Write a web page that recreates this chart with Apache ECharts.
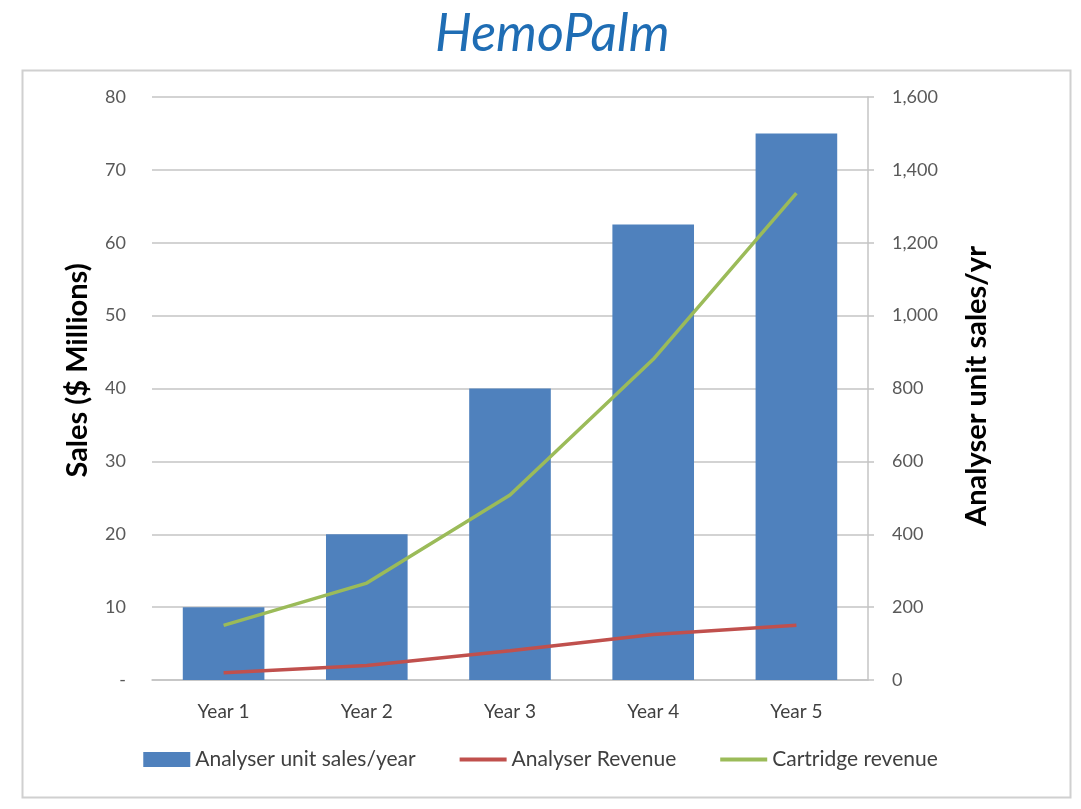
<!DOCTYPE html>
<html>
<head>
<meta charset="utf-8">
<title>HemoPalm</title>
<script src="https://cdn.jsdelivr.net/npm/echarts@6/dist/echarts.min.js"></script>
<style>
  html, body { margin: 0; padding: 0; background: #fff; }
  #chart { width: 1081px; height: 809px; }
</style>
</head>
<body>
<div id="chart"></div>
<script>
// chart data
const years = ['Year 1', 'Year 2', 'Year 3', 'Year 4', 'Year 5'];
const unitSales = [200, 400, 800, 1250, 1500];          // right axis, units/yr
const analyserRevenue = [1, 2, 4, 6.25, 7.5];           // left axis, $M
const cartridgeRevenue = [7.5, 13.3, 25.4, 44, 66.8];   // left axis, $M

const leftTicks = { min: 0, max: 80, interval: 10 };
const rightTicks = { min: 0, max: 1600, interval: 200 };

const fontFamily = 'Lato, "Open Sans", sans-serif';
const tickColor = '#595959';
const gridColor = '#c4c4c4';
// thin bar used as legend icon for the line series
const lineIcon = 'path://M0,0H47V4H0Z';

var myChart = echarts.init(document.getElementById('chart'));

var option = {
	backgroundColor: '#fff',
	textStyle: { fontFamily: fontFamily },
	title: {
		text: 'HemoPalm',
		left: 430,
		top: 3,
		textStyle: {
			fontFamily: fontFamily,
			fontSize: 52,
			fontStyle: 'italic',
			fontWeight: 'normal',
			color: '#1f6db4'
		}
	},
	// outer chart frame
	graphic: [
		{
			type: 'rect',
			left: 20,
			top: 68,
			shape: { width: 1048, height: 727 },
			style: { fill: 'none', stroke: '#d0d0d0', lineWidth: 2 },
			z: -1
		}
	],
	legend: {
		bottom: 34,
		left: 'center',
		itemGap: 44,
		itemWidth: 47,
		itemHeight: 15,
		symbolKeepAspect: true,
		textStyle: { fontSize: 21, color: '#404040', fontFamily: fontFamily },
		data: [
			{ name: 'Analyser unit sales/year', icon: 'rect' },
			{ name: 'Analyser Revenue', icon: lineIcon },
			{ name: 'Cartridge revenue', icon: lineIcon }
		]
	},
	grid: {
		left: 152,
		right: 213,
		top: 97,
		bottom: 129,
		containLabel: false
	},
	xAxis: {
		type: 'category',
		data: years,
		axisLine: { show: true, lineStyle: { color: gridColor, width: 1.5 } },
		axisTick: { show: false },
		axisLabel: { fontSize: 19, color: '#404040', margin: 22 }
	},
	yAxis: [
		{
			type: 'value',
			position: 'left',
			min: leftTicks.min,
			max: leftTicks.max,
			interval: leftTicks.interval,
			name: 'Sales ($ Millions)',
			nameLocation: 'middle',
			nameRotate: 90,
			nameGap: 60,
			nameTextStyle: { fontSize: 29, fontWeight: 'bold', color: '#000', padding: [0, 0, 0, 36] },
			axisLine: { show: false },
			axisTick: { show: false },
			axisLabel: {
				fontSize: 18,
				color: tickColor,
				margin: 26,
				formatter: (v) => v === 0 ? '-' : String(v)
			},
			splitLine: { show: true, lineStyle: { color: gridColor, width: 1.5 } }
		},
		{
			type: 'value',
			position: 'right',
			min: rightTicks.min,
			max: rightTicks.max,
			interval: rightTicks.interval,
			name: 'Analyser unit sales/yr',
			nameLocation: 'middle',
			nameRotate: 90,
			nameGap: 94,
			nameTextStyle: { fontSize: 29, fontWeight: 'bold', color: '#000', padding: [0, 0, 0, 5] },
			axisLine: { show: true, lineStyle: { color: gridColor, width: 1.5 } },
			axisTick: { show: true, length: 6, lineStyle: { color: gridColor, width: 1.5 } },
			axisLabel: {
				fontSize: 18,
				color: tickColor,
				margin: 24,
				formatter: (v) => v.toLocaleString('en-US')
			},
			splitLine: { show: false }
		}
	],
	series: [
		{
			name: 'Analyser unit sales/year',
			type: 'bar',
			yAxisIndex: 1,
			data: unitSales,
			barWidth: '57%',
			itemStyle: { color: '#4f81bd' }
		},
		{
			name: 'Analyser Revenue',
			type: 'line',
			yAxisIndex: 0,
			data: analyserRevenue,
			symbol: 'none',
			lineStyle: { color: '#c0504d', width: 3.5 },
			itemStyle: { color: '#c0504d' }
		},
		{
			name: 'Cartridge revenue',
			type: 'line',
			yAxisIndex: 0,
			data: cartridgeRevenue,
			symbol: 'none',
			lineStyle: { color: '#9bbb59', width: 3.5 },
			itemStyle: { color: '#9bbb59' }
		}
	]
};

myChart.setOption(option);
</script>
</body>
</html>
